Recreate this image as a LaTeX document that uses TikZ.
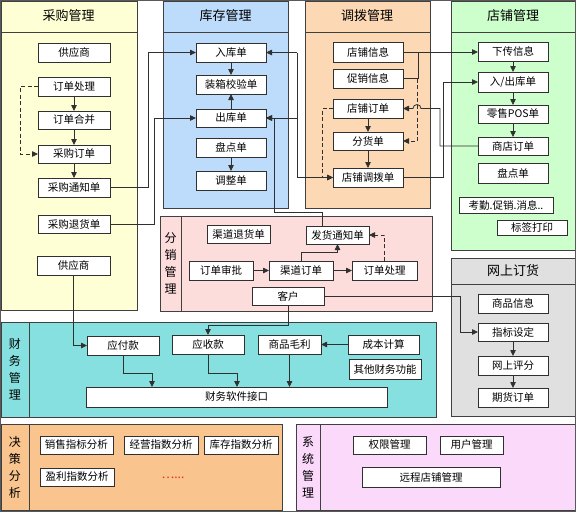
\documentclass[tikz,border=0pt]{standalone}
\usepackage{fontspec}
\setmainfont{Noto Sans CJK SC}
\usetikzlibrary{arrows.meta}
\definecolor{cYel}{HTML}{FFFFD5}
\definecolor{cBlu}{HTML}{BDDCFB}
\definecolor{cPea}{HTML}{FCD8B5}
\definecolor{cGrn}{HTML}{CCFFCC}
\definecolor{cPnk}{HTML}{FDDCDC}
\definecolor{cGry}{HTML}{E0E0E0}
\definecolor{cCyn}{HTML}{86E0DF}
\definecolor{cOrg}{HTML}{F9C48E}
\definecolor{cVio}{HTML}{FBD9FB}
\definecolor{lineC}{HTML}{404040}
\definecolor{boxC}{HTML}{303030}
\definecolor{conC}{HTML}{303030}
\definecolor{dotC}{HTML}{E8281E}
\newcommand\mybox[6]{%
 \pgfmathsetmacro\cxx{(#2+#4)/2}\pgfmathsetmacro\cyy{(#3+#5)/2}%
 \pgfmathsetmacro\ww{#4-#2}\pgfmathsetmacro\hh{#5-#3}%
 \node[bx,minimum width=\ww pt,minimum height=\hh pt] (#1) at (\cxx,\cyy) {#6};}
\begin{document}
\begin{tikzpicture}[x=1pt,y=-1pt,
 panel/.style={draw=lineC,line width=1pt},
 bx/.style={draw=boxC,line width=0.9pt,fill=white,inner sep=0pt,outer sep=0pt,font=\fontsize{10.5}{12}\selectfont},
 ttl/.style={font=\fontsize{13}{15}\selectfont},
 vlab/.style={font=\fontsize{12}{17}\selectfont,align=center},
 con/.style={draw=conC,line width=0.8pt},
 arr/.style={con,-{Triangle[length=6pt,width=5.5pt]}},
 dsh/.style={dash pattern=on 4pt off 2.5pt}]
\useasboundingbox (0,0) rectangle (576,512);
\fill[white] (0,0) rectangle (576,512);
% panels
\path[panel,fill=cYel] (1,1) rectangle (137,310); \draw[panel] (1,32)--(137,32);
\path[panel,fill=cBlu] (163,1) rectangle (288,208); \draw[panel] (163,32)--(288,32);
\path[panel,fill=cPea] (305,1) rectangle (430,208); \draw[panel] (305,32)--(430,32);
\path[panel,fill=cGrn] (451,1) rectangle (575,250); \draw[panel] (451,32)--(575,32);
\path[panel,fill=cPnk] (160,216) rectangle (432,311); \draw[panel] (181,216)--(181,311);
\path[panel,fill=cGry] (451,258) rectangle (575,416); \draw[panel] (451,284)--(575,284);
\path[panel,fill=cCyn] (1,322) rectangle (436,417); \draw[panel] (29,322)--(29,417);
\path[panel,fill=cOrg] (1,424) rectangle (282,510); \draw[panel] (29,424)--(29,510);
\path[panel,fill=cVio] (296,424) rectangle (575,510); \draw[panel] (320,424)--(320,510);
\draw[gray!70!black,line width=1pt] (0.5,0.5) rectangle (575.5,511.5);
% titles
\node[ttl] (tCG) at (68.5,16) {采购管理};
\node[ttl] (tKC) at (225.5,16) {库存管理};
\node[ttl] (tDB) at (367,16) {调拨管理};
\node[ttl] (tDP) at (513,16) {店铺管理};
\node[ttl] (tWS) at (513,271) {网上订货};
\node[vlab] (tFX) at (170.5,263) {分\\销\\管\\理};
\node[vlab] (tCW) at (15,369) {财\\务\\管\\理};
\node[vlab] (tJC) at (15,467) {决\\策\\分\\析};
\node[vlab] (tXT) at (308,467) {系\\统\\管\\理};
% boxes
\mybox{gys}{38}{43}{110}{62}{供应商}
\mybox{ddcl1}{38}{77}{110}{96}{订单处理}
\mybox{ddhb}{38}{111}{110}{129}{订单合并}
\mybox{cgdd}{38}{145}{110}{163}{采购订单}
\mybox{cgtz}{38}{178}{110}{197}{采购通知单}
\mybox{cgth}{38}{215}{110}{233}{采购退货单}
\mybox{gys2}{37}{256}{110}{275}{供应商}
\mybox{rkd}{196}{43}{266}{62}{入库单}
\mybox{zxjy}{196}{75}{266}{94}{装箱校验单}
\mybox{ckd}{196}{109}{266}{127}{出库单}
\mybox{pdd}{196}{138}{266}{157}{盘点单}
\mybox{tzd}{196}{171}{266}{190}{调整单}
\mybox{dpxx}{333}{42}{403}{62}{店铺信息}
\mybox{cxxx}{333}{69}{403}{88}{促销信息}
\mybox{dpdd}{333}{99}{403}{118}{店铺订单}
\mybox{fhd}{333}{132}{403}{150}{分货单}
\mybox{dpdb}{333}{168}{403}{187}{店铺调拨单}
\mybox{xcxx}{478}{42}{548}{61}{下传信息}
\mybox{crd}{478}{72}{548}{92}{入/出库单}
\mybox{pos}{478}{105}{548}{123}{零售POS单}
\mybox{sddd}{478}{137}{548}{155}{商店订单}
\mybox{pd2}{478}{163}{548}{183}{盘点单}
\mybox{kq}{459}{197}{553}{213}{考勤.促销.消息..}
\mybox{bq}{497}{220}{567}{235}{标签打印}
\mybox{qdth}{207}{225}{270}{243}{渠道退货单}
\mybox{fhtz}{306}{226}{369}{244}{发货通知单}
\mybox{ddsp}{189}{261}{253}{280}{订单审批}
\mybox{qddd}{269}{261}{333}{280}{渠道订单}
\mybox{ddcl2}{352}{261}{417}{280}{订单处理}
\mybox{kh}{252}{287}{324}{305}{客户}
\mybox{spxx}{478}{294}{548}{313}{商品信息}
\mybox{zbsd}{478}{323}{548}{341}{指标设定}
\mybox{wspf}{478}{356}{548}{375}{网上评分}
\mybox{qhdd}{478}{388}{548}{407}{期货订单}
\mybox{yfk}{87}{336}{159}{355}{应付款}
\mybox{ysk}{172}{335}{244}{354}{应收款}
\mybox{spml}{258}{335}{321}{354}{商品毛利}
\mybox{cbjs}{348}{335}{419}{354}{成本计算}
\mybox{qtcw}{349}{359}{421}{379}{其他财务功能}
\mybox{jk}{86}{387}{387}{407}{财务软件接口}
\mybox{xszb}{40}{436}{113}{454}{销售指标分析}
\mybox{jyzs}{124}{436}{198}{454}{经营指数分析}
\mybox{kczs}{204}{436}{278}{454}{库存指数分析}
\mybox{ylzs}{40}{468}{114}{486}{盈利指数分析}
\mybox{qxgl}{353}{436}{426}{454}{权限管理}
\mybox{yhgl}{440}{436}{503}{454}{用户管理}
\mybox{ycdp}{362}{467}{500}{487}{远程店铺管理}
\node[text=dotC,font=\fontsize{12}{14}\selectfont,inner sep=0pt] (dots) at (173,478) {…...};
% helper coordinates
\coordinate (xA) at (297,0);
\coordinate (xC) at (417,0);
% 采购
\draw[arr] (ddcl1.south) -- (ddhb.north);
\draw[arr] (ddhb.south) -- (cgdd.north);
\draw[arr] (cgdd.south) -- (cgtz.north);
\draw[arr,dsh] (ddcl1.west) -| (20,154) -- (cgdd.west);
\draw[arr] (cgtz.east) -| (148,52.5) -- (rkd.west);
\draw[arr] (cgth.east) -| (154,118) -- (ckd.west);
\draw[arr] (gys2.south) |- (yfk.west);
% 库存
\draw[arr] (rkd.south) -- (zxjy.north);
\draw[arr] (ckd.north) -- (zxjy.south);
\draw[arr] (pdd.south) -- (tzd.north);
\draw[arr] (rkd.east -| xA) -- (rkd.east);
\draw[con] (rkd.east -| xA) -- (ckd.east -| xA);
\draw[arr] (ckd.east -| xA) |- (dpdb.west);
\draw[arr] (ckd.east -| xA) -- (ckd.east);
\draw[arr] ([xshift=16pt]fhtz.north west) |- (274,212) |- (ckd.east);
% 调拨
\draw[arr] (dpxx.east) -- (dpxx.east -| xcxx.west);
\draw[con] (cxxx.east) -| (418,52);
\draw[arr,dsh] (cxxx.east -| xC) |- (fhd.east);
\draw[arr] (sddd.west) -| (440,108.5) -- (421,108.5) arc[start angle=0,end angle=-180,radius=4] -- (dpdd.east);
\draw[arr] (dpdb.east) -| (443,82) -- (crd.west);
\draw[arr,dsh] (dpdd.west) -| (322,177.5) -- (dpdb.west);
\draw[arr] (dpdd.south) -- (fhd.north);
\draw[arr] (fhd.south) -- (dpdb.north);
% 店铺
\draw[arr] (xcxx.south) -- (crd.north);
\draw[arr] (crd.south) -- (pos.north);
\draw[arr] (pos.south) -- (sddd.north);
% 分销
\draw[arr] (ddsp.east) -- (qddd.west);
\draw[arr] (qddd.east) -- (ddcl2.west);
\draw[arr] (qddd.north) |- (337.5,252) -- (fhtz.south);
\draw[arr,dsh] (ddcl2.north) |- (fhtz.east);
\draw[arr] (kh.east) -| (460,332) -- (zbsd.west);
\draw[arr] (kh.south) |- (208,325) -- (ysk.north);
% 网上
\draw[arr] (zbsd.south) -- (wspf.north);
\draw[arr] (wspf.south) -- (qhdd.north);
% 财务
\draw[arr] (yfk.south) |- (152,373) -- (152,387);
\draw[arr] (ysk.south) |- (237,373) -- (237,387);
\draw[arr] (spml.south) -- (spml.south |- jk.north);
\draw[arr] (cbjs.west) -- (spml.east);
\end{tikzpicture}
\end{document}
